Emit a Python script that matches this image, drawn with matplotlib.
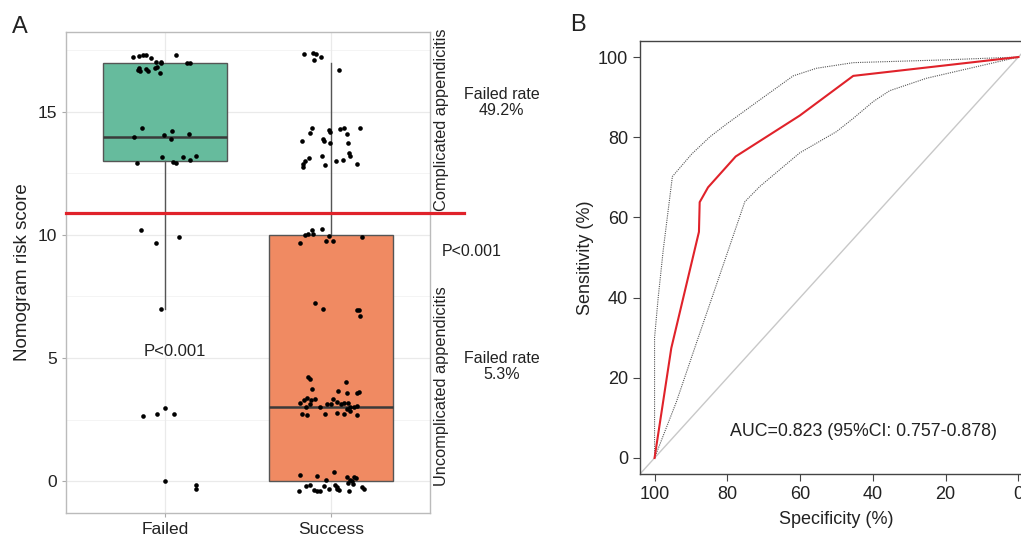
import numpy as np
import matplotlib
matplotlib.use("Agg")
import matplotlib.pyplot as plt

plt.rcParams['font.family'] = ['Liberation Sans', 'DejaVu Sans']

# ---- panel A data (jittered points) ----
failed_x = [0.807, 0.843, 0.867, 0.883, 0.911, 0.944, 0.976, 0.948, 0.972, 1.063, 1.130, 1.150,
            0.837, 0.847, 0.881, 0.893, 0.939, 0.968, 0.843,
            0.857, 1.039, 0.810, 0.994, 1.033, 1.142, 0.978, 1.109, 1.186, 1.150, 1.048, 1.063, 0.828,
            0.855, 0.944, 1.085, 0.972,
            0.863, 0.948, 1.000, 1.050, 1.000, 1.188, 1.188]
failed_y = [17.22, 17.28, 17.30, 17.33, 17.20, 17.03, 17.00, 16.84, 17.03, 17.32, 16.98, 17.00,
            16.71, 16.65, 16.73, 16.68, 16.78, 16.60, 16.78,
            14.34, 14.24, 13.98, 14.08, 13.90, 14.11, 13.18, 13.18, 13.21, 13.04, 12.98, 12.91, 12.91,
            10.20, 9.69, 9.91, 7.00,
            2.64, 2.72, 2.98, 2.72, -0.01, -0.17, -0.31]

success_x = [1.836, 1.893, 1.913, 1.942, 1.901, 2.047,
             1.887, 1.873, 1.827, 1.954, 1.962, 1.994, 1.988, 1.998, 2.059, 2.079, 2.100, 2.176,
             2.107, 2.111, 2.119, 2.075, 2.030, 2.160, 1.948, 1.967, 1.867, 1.842, 1.834, 1.830,
             1.887, 1.950, 1.842, 1.862, 1.891, 1.990, 1.814, 1.974, 2.012, 2.192,
             1.903, 1.952, 2.156, 2.171, 2.178,
             1.865, 1.873, 1.889, 2.095, 2.045, 2.100, 2.157, 2.171, 1.814, 1.838, 1.855, 1.879,
             1.903, 1.848, 1.873, 1.934, 1.979, 2.003, 2.012, 2.040, 2.065, 2.079, 2.103, 2.119,
             2.115, 2.139, 2.160, 1.827, 1.857, 1.967, 2.040, 2.079, 2.160, 2.100,
             1.814, 1.915, 2.020, 1.971, 2.101, 2.117, 2.141, 2.153, 2.107, 2.136, 2.129, 1.848,
             1.876, 1.808, 1.897, 1.917, 1.933, 1.958, 1.988, 2.028, 2.038, 2.051, 2.109, 2.190,
             2.200, 2.035]
success_y = [17.36, 17.39, 17.36, 17.22, 17.11, 16.71,
             14.34, 14.13, 13.83, 13.89, 13.81, 13.73, 14.27, 14.20, 14.31, 14.34, 14.11, 14.36,
             13.75, 13.32, 13.21, 13.05, 13.02, 12.89, 13.21, 12.86, 13.14, 13.02, 12.89, 12.78,
             10.20, 10.26, 10.00, 10.03, 10.03, 9.97, 9.69, 9.77, 9.77, 9.93,
             7.25, 6.99, 6.95, 6.95, 6.71,
             4.21, 4.13, 3.73, 4.01, 3.66, 3.59, 3.59, 3.63, 3.18, 3.29, 3.36, 3.29,
             3.32, 3.02, 3.13, 3.02, 3.13, 3.13, 3.32, 3.22, 3.13, 3.16, 3.18, 3.02,
             2.86, 3.02, 3.05, 2.72, 2.70, 2.72, 2.78, 2.72, 2.67, 2.91,
             0.23, 0.22, 0.37, 0.04, 0.15, 0.04, 0.17, 0.11, -0.09, -0.12, -0.01, -0.20,
             -0.17, -0.41, -0.37, -0.42, -0.39, -0.20, -0.31, -0.17, -0.34, -0.37, -0.39, -0.26,
             -0.31, -0.23]

groups = ["Failed", "Success"]
box_q1 = [13, 0]
box_med = [14, 3]
box_q3 = [17, 10]
box_lo = [7, 0]
box_hi = [17, 17]
box_colors = ["#66BB9D", "#F08A62"]
cutoff = 10.9

# ---- panel B data (ROC curve) ----
roc_spec = [100, 95.4, 87.8, 87.6, 85.3, 77.7, 60.1, 45.4, 0]
roc_sens = [0, 27.4, 56.4, 63.8, 67.5, 75.2, 85.4, 95.3, 100]
ci_hi_spec = [100, 100, 99.0, 97.6, 95.1, 89.8, 84.8, 80.2, 71.1, 61.9, 55.5, 45.4, 20, 0]
ci_hi_sens = [0, 30, 40.0, 52.0, 70.2, 75.8, 80.1, 83.3, 89.3, 95.3, 97.2, 98.6, 99.3, 100]
ci_lo_spec = [100, 94.0, 88.0, 81.6, 75.2, 71.1, 60.1, 50.0, 45.4, 39.9, 35.4, 25.3, 0]
ci_lo_sens = [0, 14.0, 30.0, 46.9, 63.9, 67.7, 76.1, 81.4, 84.7, 88.9, 91.6, 94.7, 100]

fig = plt.figure(figsize=(10.21, 5.36), dpi=100)

# ================= panel A =================
ax = fig.add_axes([66/1021, 1-513/536, 364/1021, 481/536])
ax.set_xlim(0.4, 2.6)
ax.set_ylim(-1.3, 18.25)

for v in [2.5, 7.5, 12.5, 17.5]:
    ax.axhline(v, color="#F3F3F3", lw=0.6, zorder=0)
for v in [0, 5, 10, 15]:
    ax.axhline(v, color="#EAEAEA", lw=0.9, zorder=0)
for v in [1, 2]:
    ax.axvline(v, color="#EAEAEA", lw=0.9, zorder=0)

stats = []
for i in range(2):
    stats.append(dict(med=box_med[i], q1=box_q1[i], q3=box_q3[i],
                      whislo=box_lo[i], whishi=box_hi[i], fliers=[]))
bp = ax.bxp(stats, positions=[1, 2], widths=0.75, showcaps=False, patch_artist=True,
            boxprops=dict(edgecolor="#555555", lw=1.0),
            whiskerprops=dict(color="#555555", lw=1.0),
            medianprops=dict(color="#3a3a3a", lw=1.8), zorder=2)
for patch, c in zip(bp["boxes"], box_colors):
    patch.set_facecolor(c)

ax.scatter(failed_x, failed_y, s=11, color="black", zorder=3, linewidths=0)
ax.scatter(success_x, success_y, s=11, color="black", zorder=3, linewidths=0)

ax.plot([0.4, 2.804], [cutoff, cutoff], color="#E0222A", lw=2.3, zorder=4, clip_on=False)

ax.set_xticks([1, 2])
ax.set_xticklabels(groups)
ax.set_yticks([0, 5, 10, 15])
ax.tick_params(labelsize=12.5, colors="#333333", length=3, width=0.8, color="#AAAAAA")
for t in ax.get_xticklabels() + ax.get_yticklabels():
    t.set_color("#222222")
for s in ax.spines.values():
    s.set_color("#BBBBBB")
    s.set_linewidth(1.0)
ax.set_ylabel("Nomogram risk score", fontsize=13.5, color="#222222", labelpad=5)

ax.text(1.06, 5.26, "P<0.001", fontsize=12, ha="center", va="center", color="#222222")
ax.text(2.671, 14.7, "Complicated appendicitis", rotation=90, fontsize=11.8, ha="center",
        va="center", color="#222222", clip_on=False)
ax.text(2.671, 3.86, "Uncomplicated appendicitis", rotation=90, fontsize=11.8, ha="center",
        va="center", color="#222222", clip_on=False)
ax.text(3.034, 15.4, "Failed rate\n49.2%", fontsize=11.5, ha="center", va="center",
        color="#222222", linespacing=1.1, clip_on=False)
ax.text(3.034, 4.65, "Failed rate\n5.3%", fontsize=11.5, ha="center", va="center",
        color="#222222", linespacing=1.1, clip_on=False)
ax.text(2.853, 9.31, "P<0.001", fontsize=11.5, ha="center", va="center",
        color="#222222", clip_on=False)

fig.text(20/1021, 1-27/536, "A", fontsize=17, ha="center", va="center", color="#222222")
fig.text(578/1021, 1-25/536, "B", fontsize=17, ha="center", va="center", color="#222222")

# ================= panel B =================
bx = fig.add_axes([640/1021, 1-474/536, 393/1021, 433/536])
bx.set_xlim(104, -4)
bx.set_ylim(-4, 104)
bx.axline((100, 0), (0, 100), color="#C8C8C8", lw=1.0, zorder=1)
bx.plot(ci_hi_spec, ci_hi_sens, color="#555555", lw=0.8, ls=(0, (1, 1)), zorder=2)
bx.plot(ci_lo_spec, ci_lo_sens, color="#555555", lw=0.8, ls=(0, (1, 1)), zorder=2)
bx.plot(roc_spec, roc_sens, color="#E0222A", lw=1.5, zorder=3)
bx.set_xticks([100, 80, 60, 40, 20, 0])
bx.set_yticks([0, 20, 40, 60, 80, 100])
bx.tick_params(labelsize=13, colors="#222222", length=5, width=0.8, color="#444444")
for s in bx.spines.values():
    s.set_color("#444444")
    s.set_linewidth(1.0)
bx.set_xlabel("Specificity (%)", fontsize=13, color="#222222", labelpad=6)
bx.set_ylabel("Sensitivity (%)", fontsize=13, color="#222222", labelpad=3)
bx.text(42.6, 6.6, "AUC=0.823 (95%CI: 0.757-0.878)", fontsize=12.8, ha="center",
        va="center", color="#222222")

fig.savefig("out.png", dpi=100)
